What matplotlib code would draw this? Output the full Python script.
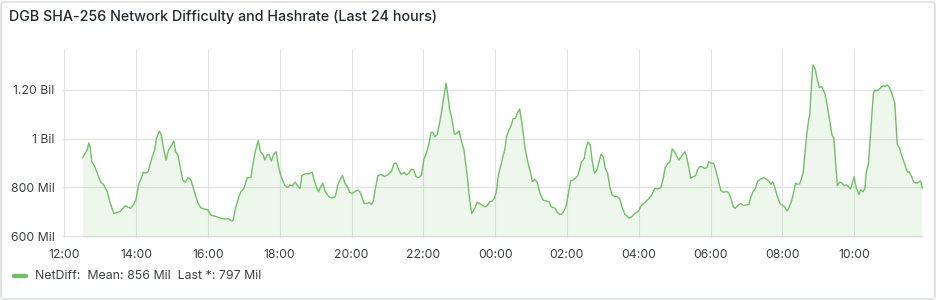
import matplotlib
matplotlib.use("Agg")
import matplotlib.pyplot as plt
import matplotlib.dates as mdates
from matplotlib.lines import Line2D
from matplotlib.patches import FancyBboxPatch
import pandas as pd

plt.rcParams['font.family'] = ['Inter', 'DejaVu Sans']

title = "DGB SHA-256 Network Difficulty and Hashrate (Last 24 hours)"
series_name = "NetDiff"
legend_stats = "Mean: 856 Mil  Last *: 797 Mil"
start_time = "2024-01-01 12:00"

# minutes after 12:00 (start of panel day)
offset_min = [
    31, 35, 38, 41, 43, 46, 51, 56, 61, 66, 72, 76, 80, 83, 87, 93, 97, 102, 106, 111,
    116, 120, 124, 128, 132, 136, 140, 143, 147, 151, 154, 159, 162, 165, 170, 174, 179, 183, 186, 190,
    194, 198, 202, 207, 211, 215, 219, 223, 228, 235, 240, 245, 251, 257, 262, 268, 275, 279, 282, 286,
    290, 295, 300, 306, 312, 315, 319, 324, 328, 332, 335, 339, 342, 346, 350, 354, 357, 360, 364, 368,
    373, 377, 381, 386, 391, 394, 397, 403, 409, 414, 418, 422, 425, 428, 432, 436, 442, 447, 453, 457,
    462, 465, 469, 473, 477, 481, 485, 490, 494, 498, 501, 505, 510, 513, 516, 520, 524, 530, 535, 541,
    547, 551, 555, 559, 563, 568, 572, 576, 580, 584, 588, 592, 597, 601, 605, 609, 613, 616, 619, 623,
    627, 630, 633, 638, 641, 644, 647, 650, 652, 656, 660, 662, 665, 668, 671, 674, 676, 679, 681, 686,
    690, 694, 698, 703, 707, 711, 715, 719, 722, 725, 729, 733, 736, 739, 743, 747, 750, 754, 757, 761,
    764, 767, 770, 775, 779, 782, 786, 790, 795, 800, 806, 810, 814, 820, 824, 828, 831, 835, 839, 843,
    846, 850, 855, 858, 861, 864, 869, 871, 875, 879, 882, 886, 890, 894, 897, 901, 904, 908, 912, 915,
    920, 924, 928, 932, 937, 940, 944, 948, 952, 956, 960, 964, 970, 976, 981, 987, 992, 997, 1001, 1004,
    1009, 1012, 1016, 1020, 1024, 1027, 1031, 1034, 1037, 1040, 1044, 1047, 1051, 1055, 1058, 1062, 1066, 1070, 1074, 1077,
    1081, 1085, 1088, 1093, 1097, 1101, 1105, 1110, 1115, 1118, 1121, 1126, 1130, 1134, 1139, 1144, 1147, 1151, 1155, 1159,
    1164, 1169, 1173, 1177, 1181, 1184, 1187, 1191, 1196, 1200, 1204, 1208, 1211, 1215, 1218, 1222, 1225, 1229, 1235, 1237,
    1241, 1244, 1246, 1248, 1251, 1255, 1258, 1262, 1266, 1271, 1275, 1279, 1283, 1286, 1289, 1292, 1296, 1300, 1303, 1307,
    1311, 1314, 1317, 1320, 1322, 1324, 1328, 1331, 1335, 1338, 1340, 1344, 1348, 1352, 1354, 1358, 1362, 1365, 1369, 1372,
    1375, 1379, 1383, 1388, 1392, 1396, 1400, 1405, 1409, 1412, 1416, 1420, 1424, 1428, 1431, 1434,
]

# network difficulty, millions
netdiff_mil = [
    922, 940, 953, 983, 967, 905, 885, 851, 821, 810, 782, 741, 711, 692, 697, 700, 711, 725, 719, 714,
    730, 752, 810, 834, 862, 858, 864, 892, 926, 953, 1002, 1032, 1015, 971, 912, 953, 971, 990, 946, 933,
    878, 830, 821, 840, 834, 803, 769, 738, 716, 711, 707, 686, 682, 677, 673, 670, 671, 662, 662, 714,
    748, 782, 796, 840, 840, 892, 946, 992, 946, 936, 912, 933, 936, 908, 936, 946, 899, 864, 834, 810,
    799, 810, 806, 821, 803, 796, 848, 856, 856, 862, 826, 796, 782, 800, 817, 782, 762, 757, 762, 810,
    837, 848, 817, 803, 780, 775, 782, 789, 782, 757, 734, 734, 738, 730, 741, 796, 848, 853, 844, 853,
    867, 899, 899, 871, 853, 862, 851, 858, 875, 871, 844, 840, 851, 916, 940, 974, 1026, 1026, 1008, 1015,
    1063, 1104, 1152, 1228, 1180, 1118, 1090, 1049, 1018, 1022, 1032, 1008, 977, 953, 892, 837, 782, 720, 693, 714,
    738, 734, 727, 720, 725, 741, 744, 755, 782, 844, 885, 926, 953, 1008, 1036, 1056, 1081, 1084, 1104, 1121,
    1077, 1022, 960, 899, 864, 823, 833, 823, 775, 748, 744, 741, 720, 714, 697, 689, 689, 703, 727, 782,
    826, 830, 840, 848, 871, 903, 919, 953, 985, 974, 912, 858, 871, 908, 936, 926, 878, 858, 799, 771,
    762, 762, 755, 720, 689, 683, 673, 679, 689, 697, 703, 725, 738, 752, 766, 796, 793, 799, 837, 881,
    899, 903, 958, 946, 926, 912, 925, 936, 946, 926, 878, 837, 844, 848, 871, 885, 885, 878, 881, 905,
    899, 899, 878, 830, 789, 780, 782, 780, 748, 720, 714, 725, 734, 727, 727, 730, 757, 782, 796, 826,
    834, 840, 834, 826, 813, 823, 803, 769, 734, 727, 720, 703, 716, 741, 769, 817, 813, 814, 862, 919,
    1022, 1077, 1100, 1193, 1303, 1286, 1248, 1210, 1214, 1186, 1138, 1077, 1015, 1002, 905, 807, 821, 817, 807, 810,
    803, 793, 817, 844, 817, 796, 771, 789, 782, 796, 858, 899, 1043, 1182, 1200, 1196, 1204, 1210, 1218, 1214,
    1221, 1210, 1186, 1145, 977, 960, 926, 892, 862, 864, 844, 821, 817, 821, 826, 797,
]

y_ticks = [600, 800, 1000, 1200]
y_tick_labels = ["600 Mil", "800 Mil", "1 Bil", "1.20 Bil"]

W, H = 940, 300
fig = plt.figure(figsize=(W / 100, H / 100), dpi=100)
fig.patch.set_facecolor("white")

# panel border
border = FancyBboxPatch((1, 1), 934, 297, boxstyle="round,pad=0,rounding_size=3",
                        transform=None, facecolor="none", edgecolor="#d8d9dc", linewidth=1,
                        zorder=-1)
fig.patches.append(border)

base = pd.Timestamp(start_time)
times = base + pd.to_timedelta(offset_min, unit="min")

ax_left, ax_right, ax_top, ax_bottom = 63, 923, 49.3, 238
ax = fig.add_axes([ax_left / W, 1 - ax_bottom / H, (ax_right - ax_left) / W, (ax_bottom - ax_top) / H])
ax.set_facecolor("none")

green = "#73BF69"
ax.plot(times, netdiff_mil, color=green, lw=1.0, zorder=3)
ax.fill_between(times, netdiff_mil, 0, color=green, alpha=0.12, lw=0, zorder=2)

ax.set_xlim(base + pd.Timedelta(minutes=-2.2), base + pd.Timedelta(minutes=1435.1))
ax.set_ylim(592, 1367)

ax.xaxis.set_major_locator(mdates.HourLocator(byhour=range(0, 24, 2)))
ax.xaxis.set_major_formatter(mdates.DateFormatter("%H:%M"))
ax.set_yticks(y_ticks)
ax.set_yticklabels(y_tick_labels)

ax.grid(True, color="#e3e3e3", lw=0.8, zorder=0)
ax.set_axisbelow(True)
for s in ax.spines.values():
    s.set_visible(False)
ax.tick_params(axis="both", length=0, labelsize=8.8, colors="#3c3f44")
ax.tick_params(axis="x", pad=8)
ax.tick_params(axis="y", pad=6)

fig.text(9 / W, 1 - 17 / H, title, fontsize=10.3, fontweight="medium", color="#24292e",
         va="center", ha="left")

fig.add_artist(Line2D([14 / W, 26 / W], [1 - 276 / H, 1 - 276 / H], color=green, lw=3.2,
                      solid_capstyle="round", transform=fig.transFigure))
fig.text(35 / W, 1 - 276 / H, f"{series_name}:  {legend_stats}", fontsize=8.9, color="#3c3f44",
         va="center", ha="left")

fig.savefig("out.png", dpi=100, facecolor="white")
